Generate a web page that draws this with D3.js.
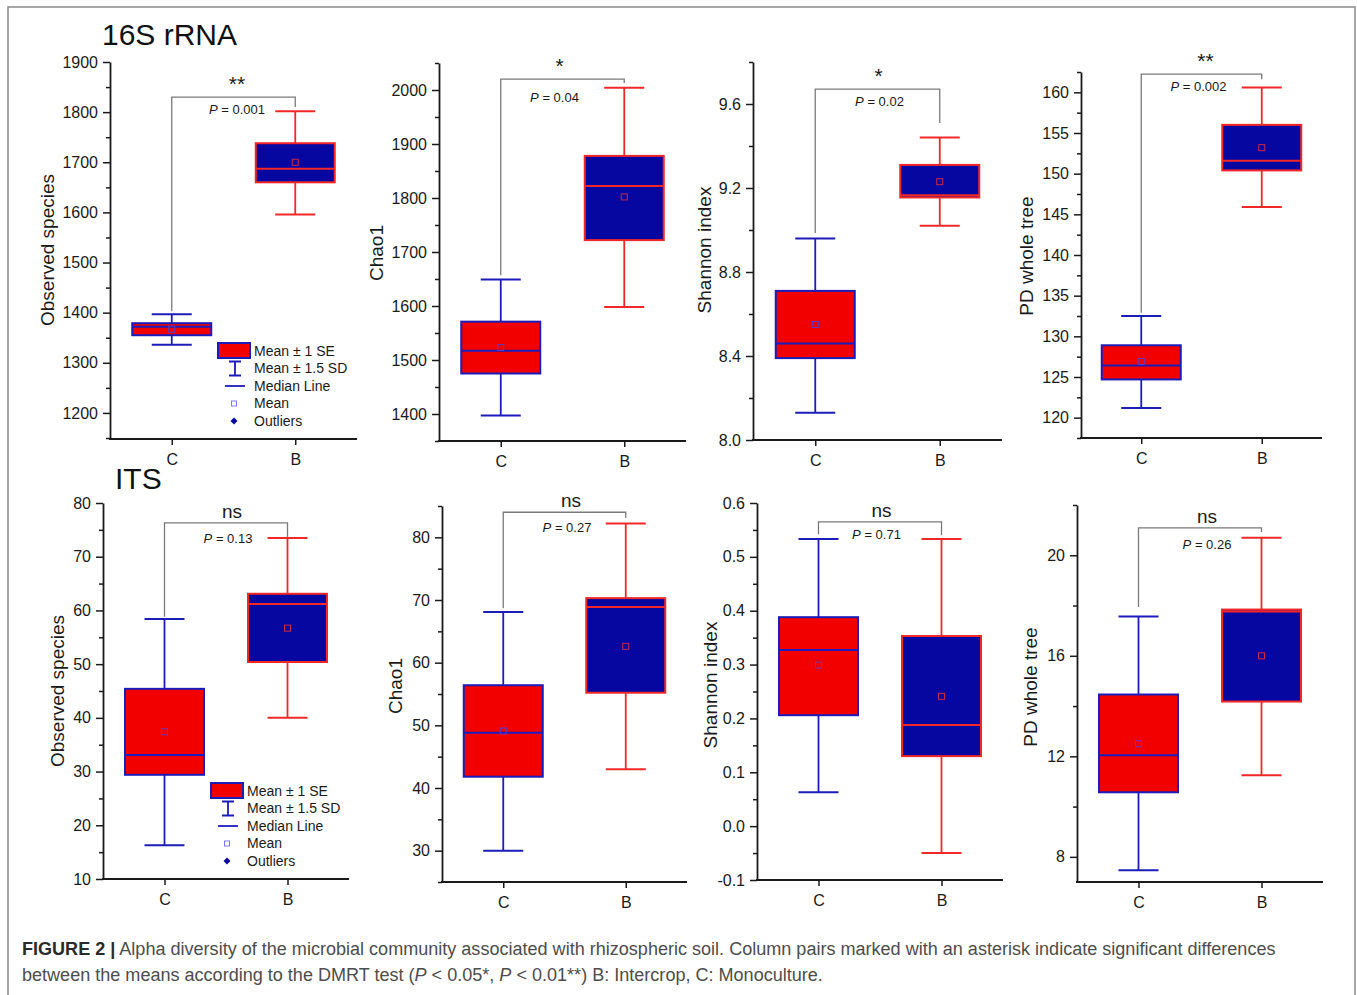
<!DOCTYPE html>
<html><head><meta charset="utf-8">
<script src="https://cdn.jsdelivr.net/npm/d3@7"></script>
<style>
body{margin:0;background:#fff;}
svg{display:block;font-family:"Liberation Sans",Arial,Helvetica,sans-serif;}
</style>
</head><body>
<svg id="chart" width="1357" height="995"></svg>
<script>
// ---------------- DATA ----------------
const sectionTitles = ["16S rRNA", "ITS"];
const categories = ["C", "B"];
const yLabels = ["Observed species", "Chao1", "Shannon index", "PD whole tree",
                 "Observed species", "Chao1", "Shannon index", "PD whole tree"];
const yDomains = [[1148, 1900], [1350, 2050], [8.0, 9.8], [117.5, 162.5],
                  [10, 80], [25, 85], [-0.1, 0.6], [7, 22]];
const yTickValues = [
  [1200, 1300, 1400, 1500, 1600, 1700, 1800, 1900],
  [1400, 1500, 1600, 1700, 1800, 1900, 2000],
  [8.0, 8.4, 8.8, 9.2, 9.6],
  [120, 125, 130, 135, 140, 145, 150, 155, 160],
  [10, 20, 30, 40, 50, 60, 70, 80],
  [30, 40, 50, 60, 70, 80],
  [-0.1, 0.0, 0.1, 0.2, 0.3, 0.4, 0.5, 0.6],
  [8, 12, 16, 20]
];
const yTickLabels = [
  ["1200", "1300", "1400", "1500", "1600", "1700", "1800", "1900"],
  ["1400", "1500", "1600", "1700", "1800", "1900", "2000"],
  ["8.0", "8.4", "8.8", "9.2", "9.6"],
  ["120", "125", "130", "135", "140", "145", "150", "155", "160"],
  ["10", "20", "30", "40", "50", "60", "70", "80"],
  ["30", "40", "50", "60", "70", "80"],
  ["-0.1", "0.0", "0.1", "0.2", "0.3", "0.4", "0.5", "0.6"],
  ["8", "12", "16", "20"]
];
const yMinorStep = [50, 50, 0.2, 2.5, 5, 5, 0.05, 2];

// [C, B] per panel
const whiskerHigh = [[1397, 1802], [1649, 2004], [8.96, 9.44], [132.5, 160.6],
                     [58.4, 73.5], [68.1, 82.2], [0.533, 0.533], [17.56, 20.7]];
const seHigh      = [[1379, 1738], [1571, 1878], [8.71, 9.31], [128.9, 156.0],
                     [45.4, 63.1], [56.4, 70.3], [0.388, 0.353], [14.46, 17.84]];
const medians     = [[1372, 1687], [1517, 1822], [8.46, 9.165], [126.4, 151.6],
                     [33.1, 61.2], [48.8, 68.9], [0.327, 0.188], [12.04, 17.76]];
const means       = [[1367, 1700], [1523, 1802], [8.55, 9.23], [126.9, 153.2],
                     [37.4, 56.7], [49.1, 62.6], [0.299, 0.241], [12.5, 16.0]];
const seLow       = [[1355, 1660], [1475, 1722], [8.39, 9.155], [124.7, 150.4],
                     [29.4, 50.4], [41.8, 55.2], [0.206, 0.130], [10.57, 14.18]];
const whiskerLow  = [[1336, 1596], [1397, 1598], [8.13, 9.02], [121.2, 145.9],
                     [16.3, 40.0], [30.0, 43.0], [0.063, -0.050], [7.47, 11.25]];

const sigLabels = ["**", "*", "*", "**", "ns", "ns", "ns", "ns"];
const pValues = ["0.001", "0.04", "0.02", "0.002", "0.13", "0.27", "0.71", "0.26"];
// bracket levels in data units: top bar, left leg end (C), right leg end (B)
const bracketTop  = [1830, 2020, 9.671, 162.25, 76.3, 84.0, 0.565, 21.09];
const bracketLegC = [1403, 1657, 8.986, 132.9, 58.8, 68.7, 0.542, 17.94];
const bracketLegB = [1810, 2013, 9.51, 161.6, 73.1, 83.1, 0.540, 20.93];

const legendItems = ["Mean \u00B1 1 SE", "Mean \u00B1 1.5 SD", "Median Line", "Mean", "Outliers"];
const captionBold = "FIGURE 2 |";
const captionLine1 = " Alpha diversity of the microbial community associated with rhizospheric soil. Column pairs marked with an asterisk indicate significant differences";
const captionLine2 = ["between the means according to the DMRT test (", "P", " < 0.05*, ", "P", " < 0.01**) B: Intercrop, C: Monoculture."];

// ---------------- LAYOUT ----------------
const plotLeft   = [110, 439, 753, 1081, 103, 442, 757, 1077];
const plotRight  = [357, 686, 1002, 1322, 349, 687, 1003, 1323];
const plotTop    = [62, 63, 62, 72, 503, 506, 503, 505];
const plotBottom = [439, 441, 440, 438, 879, 882, 880, 882];
const yLabelX    = [54, 383, 711, 1033, 64, 402, 717, 1037];
const yLabelY    = [250, 253, 250, 256, 691, 686, 685, 687];
const sigDx      = [3.5, -3, 1, 4, 6, 6.5, 1.5, 7];
const pDx        = [3.5, -8, 2, -3, 2, 2.5, -3.5, 7];
const pDy        = [17, 23, 17, 17, 20, 20, 17, 21];
const legendPos  = {0: [218, 351], 4: [211, 791]};

const RED_FILL = "#f20000", BLUE_FILL = "#0606a0";
const BLUE_LINE = "#1c1cb8", RED_LINE = "#f22828";
const fillCol = [RED_FILL, BLUE_FILL];
const lineCol = [BLUE_LINE, RED_LINE];
const meanCol = ["#5a3cc8", "#c8284a"];
const BOX_W = 79, CAP_W = 40;

const svg = d3.select("#chart");

// border
svg.append("rect").attr("x", 8).attr("y", 7).attr("width", 1347).attr("height", 1000)
  .attr("fill", "none").attr("stroke", "#8a8a8a").attr("stroke-width", 1.5);

// section titles
svg.append("text").attr("x", 102).attr("y", 45).attr("font-size", 30).attr("fill", "#111").text(sectionTitles[0]);
svg.append("text").attr("x", 115).attr("y", 489).attr("font-size", 30).attr("fill", "#111").text(sectionTitles[1]);

for (let i = 0; i < 8; i++) {
  const g = svg.append("g");
  const y = d3.scaleLinear().domain(yDomains[i]).range([plotBottom[i], plotTop[i]]);
  const x = d3.scalePoint().domain(categories).range([plotLeft[i], plotRight[i]]).padding(0.5);

  // minor ticks
  const [d0, d1] = yDomains[i];
  const step = yMinorStep[i];
  const minor = [];
  for (let k = Math.ceil(d0 / step - 1e-6); k * step <= d1 + 1e-9; k++) {
    const v = +(k * step).toFixed(6);
    if (!yTickValues[i].some(t => Math.abs(t - v) < 1e-9)) minor.push(v);
  }
  g.append("g").attr("transform", `translate(${plotLeft[i]},0)`)
    .call(d3.axisLeft(y).tickValues(minor).tickSize(4).tickSizeOuter(0).tickFormat(""))
    .call(a => a.select(".domain").remove())
    .call(a => a.selectAll("line").attr("stroke", "#1a1a1a").attr("stroke-width", 1.5));

  // major y axis
  g.append("g").attr("transform", `translate(${plotLeft[i]},0)`)
    .call(d3.axisLeft(y).tickValues(yTickValues[i]).tickSize(7).tickSizeOuter(0).tickPadding(5)
      .tickFormat((d, j) => yTickLabels[i][j]))
    .call(a => a.select(".domain").attr("stroke", "#1a1a1a").attr("stroke-width", 1.8))
    .call(a => a.selectAll("line").attr("stroke", "#1a1a1a").attr("stroke-width", 1.5))
    .call(a => a.selectAll("text").attr("font-size", 16).attr("fill", "#1a1a1a")
      .attr("font-family", "'Liberation Sans',Arial,sans-serif"));

  // x axis
  g.append("g").attr("transform", `translate(0,${plotBottom[i]})`)
    .call(d3.axisBottom(x).tickSize(6).tickSizeOuter(0).tickPadding(9))
    .call(a => a.select(".domain").attr("stroke", "#1a1a1a").attr("stroke-width", 1.8)
      .attr("d", `M${plotLeft[i] - 1},0H${plotRight[i]}`))
    .call(a => a.selectAll("line").attr("stroke", "#1a1a1a").attr("stroke-width", 1.5))
    .call(a => a.selectAll("text").attr("font-size", 16).attr("fill", "#1a1a1a")
      .attr("font-family", "'Liberation Sans',Arial,sans-serif"));

  // y label
  g.append("text").attr("transform", `translate(${yLabelX[i]},${yLabelY[i]}) rotate(-90)`)
    .attr("text-anchor", "middle").attr("font-size", 19).attr("fill", "#1a1a1a").text(yLabels[i]);

  // bracket
  const xc = x("C"), xb = x("B"), mid = (xc + xb) / 2;
  g.append("path")
    .attr("d", `M${xc},${y(bracketLegC[i])}V${y(bracketTop[i])}H${xb}V${y(bracketLegB[i])}`)
    .attr("fill", "none").attr("stroke", "#7a7a7a").attr("stroke-width", 1.3);
  const isNs = sigLabels[i] === "ns";
  g.append("text").attr("x", mid + sigDx[i]).attr("y", y(bracketTop[i]) - (isNs ? 5 : 6))
    .attr("text-anchor", "middle").attr("font-size", isNs ? 19 : 21).attr("fill", "#1a1a1a")
    .text(sigLabels[i]);
  const pt = g.append("text").attr("x", mid + pDx[i]).attr("y", y(bracketTop[i]) + pDy[i])
    .attr("text-anchor", "middle").attr("font-size", 13).attr("fill", "#1a1a1a");
  pt.append("tspan").attr("font-style", "italic").text("P");
  pt.append("tspan").text(" = " + pValues[i]);

  // boxes
  categories.forEach((cat, j) => {
    const cx = x(cat);
    const bg = g.append("g");
    const lc = lineCol[j];
    bg.append("line").attr("x1", cx).attr("x2", cx).attr("y1", y(whiskerHigh[i][j])).attr("y2", y(seHigh[i][j]))
      .attr("stroke", lc).attr("stroke-width", 1.8);
    bg.append("line").attr("x1", cx).attr("x2", cx).attr("y1", y(seLow[i][j])).attr("y2", y(whiskerLow[i][j]))
      .attr("stroke", lc).attr("stroke-width", 1.8);
    [whiskerHigh[i][j], whiskerLow[i][j]].forEach(v => {
      bg.append("line").attr("x1", cx - CAP_W / 2).attr("x2", cx + CAP_W / 2).attr("y1", y(v)).attr("y2", y(v))
        .attr("stroke", lc).attr("stroke-width", 2);
    });
    bg.append("rect").attr("x", cx - BOX_W / 2).attr("width", BOX_W)
      .attr("y", y(seHigh[i][j])).attr("height", y(seLow[i][j]) - y(seHigh[i][j]))
      .attr("fill", fillCol[j]).attr("stroke", lc).attr("stroke-width", 2);
    bg.append("line").attr("x1", cx - BOX_W / 2).attr("x2", cx + BOX_W / 2)
      .attr("y1", y(medians[i][j])).attr("y2", y(medians[i][j]))
      .attr("stroke", lc).attr("stroke-width", 2);
    bg.append("rect").attr("x", cx - 3).attr("y", y(means[i][j]) - 3).attr("width", 6).attr("height", 6)
      .attr("fill", "none").attr("stroke", meanCol[j]).attr("stroke-width", 1);
  });

  // legend
  if (legendPos[i]) {
    const [lx, ly] = legendPos[i];
    const lg = g.append("g");
    const rowH = 17.5;
    legendItems.forEach((t, k) => {
      lg.append("text").attr("x", lx + 36).attr("y", ly + k * rowH).attr("dy", "0.35em")
        .attr("font-size", 14).attr("fill", "#1a1a1a").text(t);
    });
    lg.append("rect").attr("x", lx).attr("y", ly - 8).attr("width", 32).attr("height", 15)
      .attr("fill", RED_FILL).attr("stroke", BLUE_LINE).attr("stroke-width", 2);
    const iy = ly + rowH;
    lg.append("path").attr("d", `M${lx + 11},${iy - 7}H${lx + 23}M${lx + 17},${iy - 7}V${iy + 7}M${lx + 11},${iy + 7}H${lx + 23}`)
      .attr("fill", "none").attr("stroke", BLUE_LINE).attr("stroke-width", 1.8);
    const my = ly + 2 * rowH;
    lg.append("line").attr("x1", lx + 7).attr("x2", lx + 27).attr("y1", my).attr("y2", my)
      .attr("stroke", BLUE_LINE).attr("stroke-width", 1.8);
    const sy = ly + 3 * rowH;
    lg.append("rect").attr("x", lx + 13.5).attr("y", sy - 2.5).attr("width", 5).attr("height", 5)
      .attr("fill", "none").attr("stroke", "#7a7aff").attr("stroke-width", 1);
    const oy = ly + 4 * rowH;
    lg.append("path").attr("d", "M0,-3.5L3.5,0L0,3.5L-3.5,0Z")
      .attr("transform", `translate(${lx + 16},${oy})`).attr("fill", BLUE_FILL);
  }
}

// caption
const cap1 = svg.append("text").attr("x", 22).attr("y", 955).attr("font-size", 18).attr("fill", "#4d4d4d");
cap1.append("tspan").attr("font-weight", "bold").attr("fill", "#2a2a2a").text(captionBold);
cap1.append("tspan").text(captionLine1);
const w1 = cap1.node().getComputedTextLength();
const fs = 18 * (1277 - 22) / w1;
cap1.attr("font-size", fs);
const cap2 = svg.append("text").attr("x", 22).attr("y", 981).attr("font-size", fs).attr("fill", "#4d4d4d");
captionLine2.forEach(t => {
  const ts = cap2.append("tspan").text(t);
  if (t === "P") ts.attr("font-style", "italic");
});
</script>
</body></html>
